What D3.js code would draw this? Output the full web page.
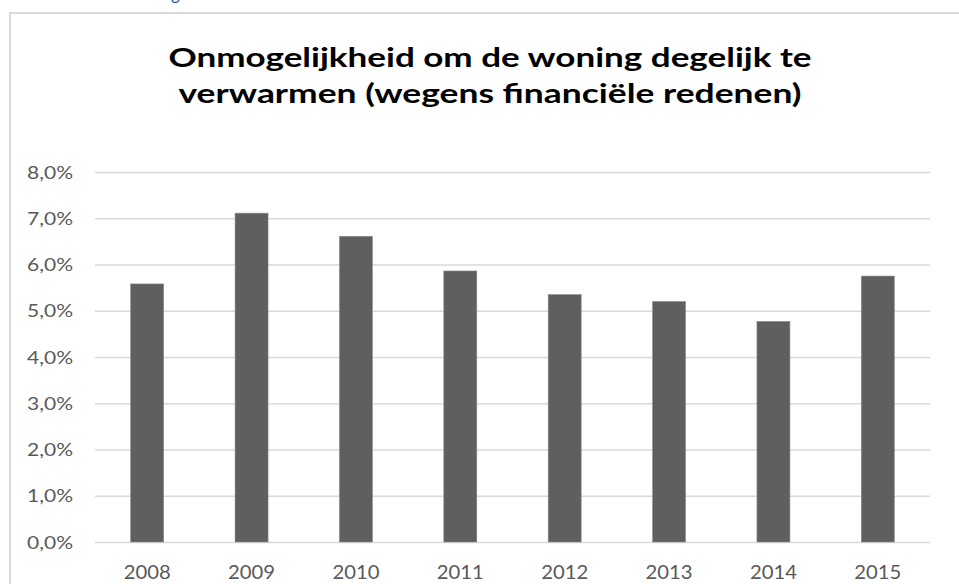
<!DOCTYPE html>
<html>
<head>
<meta charset="utf-8">
<script src="https://cdn.jsdelivr.net/npm/d3@7"></script>
<style>
  html, body { margin: 0; padding: 0; background: #fff; overflow: hidden; }
  svg { display: block; }
</style>
</head>
<body>
<script>
// data
var years = ["2008", "2009", "2010", "2011", "2012", "2013", "2014", "2015"];
var values = [5.58, 7.11, 6.61, 5.86, 5.35, 5.2, 4.77, 5.75];
var yTicks = [0, 1, 2, 3, 4, 5, 6, 7, 8];
var titleLines = ["Onmogelijkheid om de woning degelijk te", "verwarmen (wegens financiële redenen)"];

var W = 959, H = 584;
var margin = {top: 172, right: 29, bottom: 42, left: 95};

var svg = d3.select("body").append("svg")
    .attr("width", W)
    .attr("height", H);

// cropped blue text from the page above the chart
svg.append("text")
    .attr("x", 171)
    .attr("y", 0)
    .style("font-family", "Lato, sans-serif")
    .style("font-size", "17px")
    .attr("fill", "#2f5597")
    .text("g");

// chart frame
svg.append("rect")
    .attr("x", 10)
    .attr("y", 13)
    .attr("width", 1000)
    .attr("height", 1000)
    .attr("fill", "none")
    .attr("stroke", "#d9d9d9")
    .attr("stroke-width", 2);

// title
svg.append("g").selectAll("text")
    .data(titleLines)
    .enter().append("text")
    .attr("x", 490)
    .attr("y", function(d, i) { return 67 + i * 36; })
    .attr("text-anchor", "middle")
    .attr("textLength", function(d, i) { return i === 0 ? 643 : 623; })
    .attr("lengthAdjust", "spacingAndGlyphs")
    .style("font-family", "Lato, sans-serif")
    .style("font-weight", "bold")
    .style("font-size", "27px")
    .attr("fill", "#000")
    .text(function(d) { return d; });

var x = d3.scaleBand()
    .domain(years)
    .range([margin.left, W - margin.right])
    .paddingInner(0.684)
    .paddingOuter(0.342);

var y = d3.scaleLinear()
    .domain([0, 8])
    .range([H - margin.bottom, margin.top]);

var fmt = function(d) { return d3.format(".1f")(d).replace(".", ",") + "%"; };

// gridlines + y labels
var yAxis = d3.axisLeft(y)
    .tickValues(yTicks)
    .tickSize(-(W - margin.right - margin.left))
    .tickPadding(22)
    .tickFormat(fmt);

var gy = svg.append("g")
    .attr("transform", "translate(" + margin.left + ",0)")
    .call(yAxis);
gy.select(".domain").remove();
gy.selectAll("line")
    .attr("stroke", "#d9d9d9")
    .attr("stroke-width", 1.3);
gy.selectAll("text")
    .attr("fill", "#595959")
    .attr("dy", "0.36em")
    .attr("textLength", 46)
    .attr("lengthAdjust", "spacingAndGlyphs")
    .style("font-family", "Lato, sans-serif")
    .style("font-size", "17px");

// bars
svg.append("g").selectAll("rect")
    .data(values)
    .enter().append("rect")
    .attr("x", function(d, i) { return x(years[i]); })
    .attr("y", function(d) { return y(d); })
    .attr("width", x.bandwidth())
    .attr("height", function(d) { return y(0) - y(d); })
    .attr("fill", "#5f5f5f")
    .attr("stroke", "#8a8a8a")
    .attr("stroke-width", 0.6);

// x labels
var xAxis = d3.axisBottom(x)
    .tickSize(0)
    .tickPadding(22);

var gx = svg.append("g")
    .attr("transform", "translate(0," + y(0) + ")")
    .call(xAxis);
gx.select(".domain").remove();
gx.selectAll("text")
    .attr("fill", "#595959")
    .attr("y", 37)
    .attr("dy", 0)
    .attr("textLength", 47)
    .attr("lengthAdjust", "spacingAndGlyphs")
    .style("font-family", "Lato, sans-serif")
    .style("font-size", "19px");
</script>
</body>
</html>
